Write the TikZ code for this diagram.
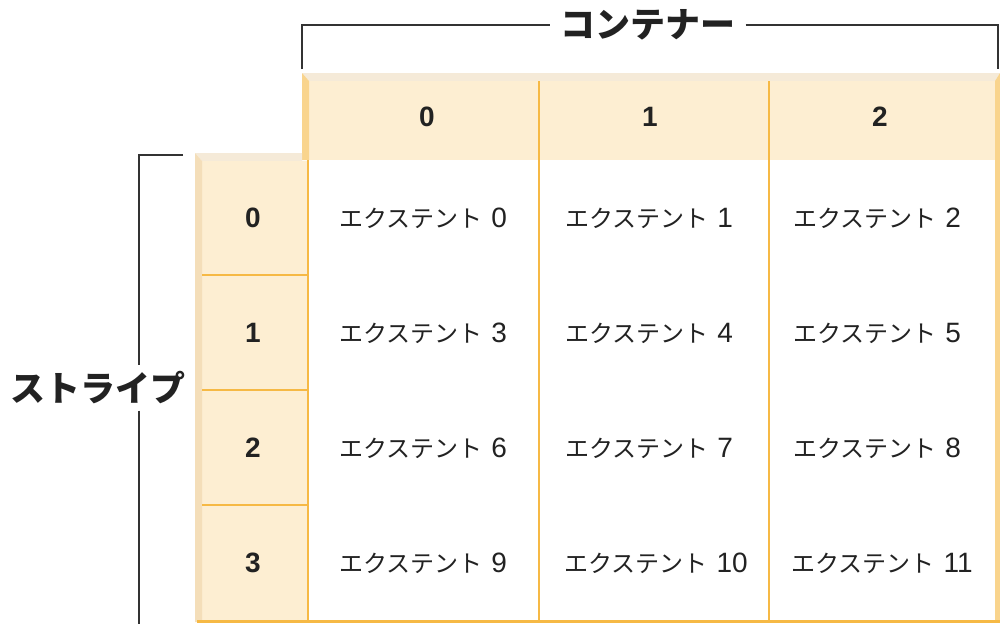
\documentclass[tikz,border=0pt]{standalone}
\usepackage{fontspec}
\setmainfont{Liberation Sans}
\newfontfamily\jp{Noto Sans CJK JP}
\definecolor{cream}{HTML}{FDEED2}
\definecolor{bevtop}{HTML}{F5EAD8}
\definecolor{bevleft}{HTML}{F9D48D}
\definecolor{bevleftb}{HTML}{F4DEB9}
\definecolor{orng}{HTML}{F6B945}
\definecolor{ink}{HTML}{222222}
\definecolor{brk}{HTML}{333333}
\newcommand{\ext}[1]{{\fontsize{24}{26}\selectfont\jp エクステント}\hspace{9pt}{\fontsize{28}{30}\selectfont #1}}
\begin{document}
\begin{tikzpicture}[x=1pt,y=-1pt,
  cell/.style={text=ink, inner sep=0pt},
  hdr/.style={font=\fontsize{28}{30}\selectfont\bfseries, text=ink},
  ttl/.style={font=\fontsize{35}{38}\selectfont\bfseries\jp, text=ink, inner sep=10pt},
  grid/.style={draw=orng, line width=1.6pt},
  brack/.style={draw=brk, line width=1.5pt}]
\useasboundingbox (0,0) rectangle (1000,624);
% header row
\fill[bevtop] (302,73) -- (1000,73) -- (995,81) -- (309,81) -- cycle;
\fill[cream] (309,81) rectangle (995,160);
\fill[bevleft] (302,73) -- (309,81) -- (309,160) -- (302,160) -- cycle;
\fill[bevleft] (1000,73) -- (1000,622) -- (995,622) -- (995,81) -- cycle;
% row header column
\fill[bevtop] (195,153) -- (302,153) -- (302,161) -- (202,161) -- cycle;
\fill[cream] (202,161) rectangle (308,620);
\fill[bevleftb] (195,153) -- (202,161) -- (202,622) -- (195,622) -- cycle;
% grid lines
\draw[grid] (308,160) -- (308,620);
\draw[grid] (539,81) -- (539,620);
\draw[grid] (769,81) -- (769,620);
\foreach \y in {275,390,505} \draw[grid] (202,\y) -- (308,\y);
\draw[draw=orng, line width=3pt] (197,621.5) -- (1000,621.5);
% column headers
\node[hdr] (h0) at (427,117) {0};
\node[hdr] (h1) at (650,117) {1};
\node[hdr] (h2) at (880,117) {2};
% row headers
\node[hdr] (r0) at (253,218) {0};
\node[hdr] (r1) at (253,333) {1};
\node[hdr] (r2) at (253,448) {2};
\node[hdr] (r3) at (253,563) {3};
% cells
\node[cell] (c0) at (423,218) {\ext{0}};
\node[cell] (c1) at (649,218) {\ext{1}};
\node[cell] (c2) at (877,218) {\ext{2}};
\node[cell] (c3) at (423,333) {\ext{3}};
\node[cell] (c4) at (649,333) {\ext{4}};
\node[cell] (c5) at (877,333) {\ext{5}};
\node[cell] (c6) at (423,448) {\ext{6}};
\node[cell] (c7) at (649,448) {\ext{7}};
\node[cell] (c8) at (877,448) {\ext{8}};
\node[cell] (c9) at (423,563) {\ext{9}};
\node[cell] (c10) at (656,563) {\ext{10}};
\node[cell] (c11) at (882,563) {\ext{11}};
% titles and brackets
\node[ttl] (ctitle) at (648,25) {コンテナー};
\draw[brack] (302,69) |- (ctitle.west);
\draw[brack] (ctitle.east) -| (998,69);
\node[ttl, inner sep=6pt] (stitle) at (98,388) {ストライプ};
\coordinate (sx) at (139,0);
\draw[brack] (183,155) -| (sx |- stitle.north);
\draw[brack] (sx |- stitle.south) -- (139,624);
\end{tikzpicture}
\end{document}
